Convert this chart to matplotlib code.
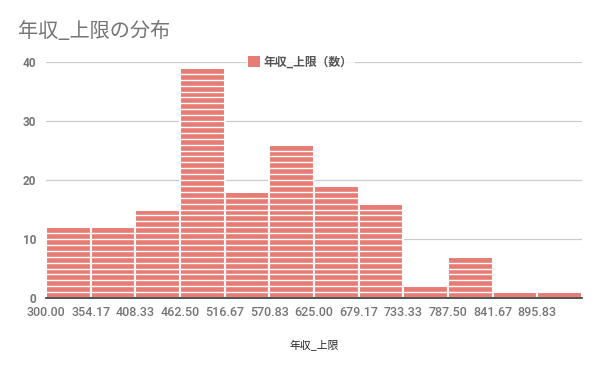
import matplotlib.pyplot as plt
import numpy as np

# histogram data
bin_edges = [300.00, 354.17, 408.33, 462.50, 516.67, 570.83, 625.00,
             679.17, 733.33, 787.50, 841.67, 895.83, 950.00]
counts = [12, 12, 15, 39, 18, 26, 19, 16, 2, 7, 1, 1]
tick_labels = ['300.00', '354.17', '408.33', '462.50', '516.67', '570.83',
               '625.00', '679.17', '733.33', '787.50', '841.67', '895.83']

plt.rcParams['font.family'] = ['Roboto', 'Noto Sans CJK JP', 'DejaVu Sans']
bar_color = '#e67c73'
cjk = ['Noto Sans CJK JP', 'DejaVu Sans']

fig = plt.figure(figsize=(6, 3.71), dpi=100)
ax = fig.add_axes([46 / 600, 1 - 298 / 371, 536 / 600, 236 / 371])

lefts = np.array(bin_edges[:-1])
widths = np.diff(bin_edges)
ax.bar(lefts, counts, width=widths, align='edge', color=bar_color,
       edgecolor='white', linewidth=1.5, zorder=2, label='年収_上限（数）')
# white separators at each unit
for left, w, c in zip(lefts, widths, counts):
    ax.hlines(np.arange(1, c), left, left + w, colors='white', linewidth=1.0, zorder=3)

ax.set_xlim(bin_edges[0], bin_edges[-1])
ax.set_ylim(0, 40)
ax.set_yticks([0, 10, 20, 30, 40])
ax.set_xticks(bin_edges[:-1])
ax.set_xticklabels(tick_labels)
ax.grid(axis='y', color='#cccccc', linewidth=0.9, zorder=0)
for s in ['top', 'right', 'left']:
    ax.spines[s].set_visible(False)
ax.spines['bottom'].set_color('#333333')
ax.spines['bottom'].set_linewidth(1.2)
ax.spines['bottom'].set_zorder(4)
ax.tick_params(axis='both', length=0)
ax.tick_params(axis='x', labelsize=9, labelcolor='#757575', pad=6)
ax.tick_params(axis='y', labelsize=8.5, labelcolor='#757575', pad=7)
for t in ax.get_yticklabels():
    t.set_fontweight('bold')
for t in ax.get_xticklabels():
    t.set_fontweight('medium')

ax.set_xlabel('年収_上限', fontsize=7.8, color='#222222', labelpad=15, family=cjk)
fig.text(18 / 600, 1 - 31 / 371, '年収_上限の分布', fontsize=14.5, color='#757575',
         va='center', ha='left', family=cjk)

leg = ax.legend(loc='center', bbox_to_anchor=(0.474, 1.0), frameon=True,
                handlelength=1.0, handleheight=1.0, handletextpad=0.3,
                borderpad=0.2, prop={'family': cjk, 'weight': 'bold', 'size': 8.5})
leg.get_frame().set_edgecolor('none')
leg.get_frame().set_facecolor('white')
leg.legend_handles[0].set_edgecolor(bar_color)
leg.legend_handles[0].set_linewidth(0)
for t in leg.get_texts():
    t.set_color('#555555')

fig.savefig('out.png', dpi=100)
